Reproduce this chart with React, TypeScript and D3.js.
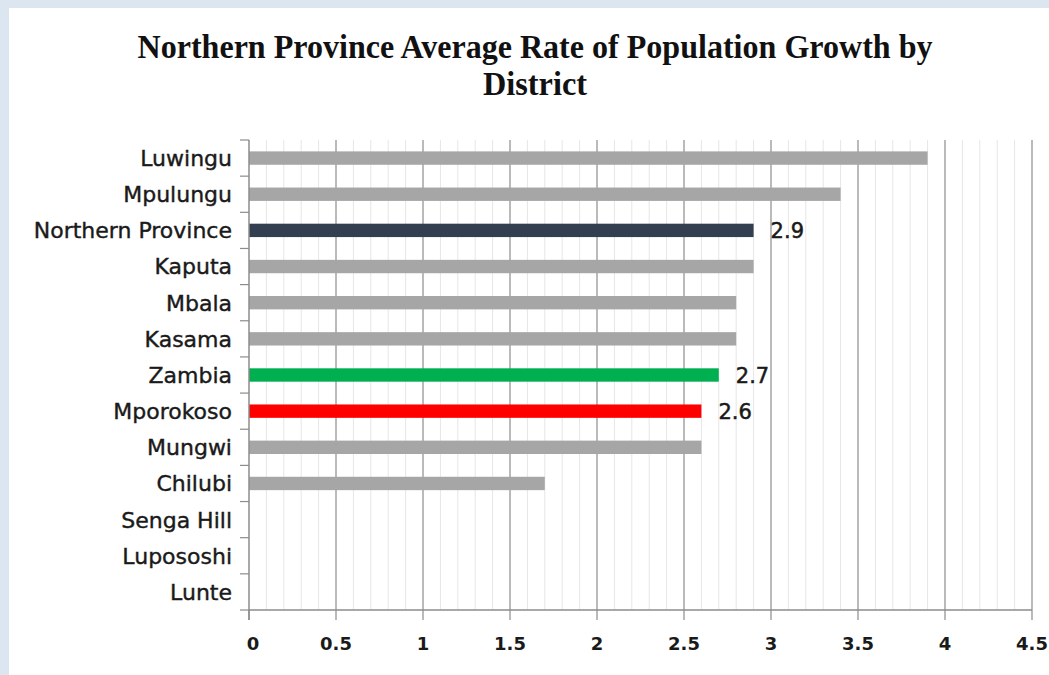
import React from "react";
import * as d3 from "d3";

const categories = [
  "Luwingu", "Mpulungu", "Northern Province", "Kaputa", "Mbala", "Kasama",
  "Zambia", "Mporokoso", "Mungwi", "Chilubi", "Senga Hill", "Lupososhi", "Lunte",
];
const values = [3.9, 3.4, 2.9, 2.9, 2.8, 2.8, 2.7, 2.6, 2.6, 1.7, 0, 0, 0];
const barColors = [
  "#a6a6a6", "#a6a6a6", "#333f50", "#a6a6a6", "#a6a6a6", "#a6a6a6",
  "#00b050", "#ff0000", "#a6a6a6", "#a6a6a6", "#a6a6a6", "#a6a6a6", "#a6a6a6",
];
const labeled = ["Northern Province", "Zambia", "Mporokoso"];
const xTicks = [0, 0.5, 1, 1.5, 2, 2.5, 3, 3.5, 4, 4.5];
const titleLines = ["Northern Province Average Rate of Population Growth by", "District"];

const W = 1049;
const H = 675;
const left = 249;
const right = 1032;
const top = 140;
const bottom = 610;
const font = "'DejaVu Sans', Lato, sans-serif";

export default function App() {
  const x = d3.scaleLinear().domain([0, 4.5]).range([left, right]);
  const y = d3.scaleBand<string>().domain(categories).range([top, bottom]).paddingInner(0.63).paddingOuter(0.315);
  const yb = d3.scaleBand<string>().domain(categories).range([top, bottom]);
  const minor = d3.range(0, 45).map((i) => i / 10).filter((v) => Math.round(v * 10) % 5 !== 0);

  return (
    <svg width={W} height={H} style={{ position: "absolute", left: 0, top: 0 }}>
      <rect x={0} y={0} width={W} height={H} fill="#dce6f1" />
      <rect x={9} y={8} width={W - 9} height={H - 8} fill="#ffffff" />
      {titleLines.map((t, i) => (
        <text key={i} x={535} y={58 + i * 37} textAnchor="middle" fontFamily="'Liberation Serif', 'Times New Roman', serif"
          fontWeight="bold" fontSize={i === 0 ? 34 : 33} fill="#111"
          {...(i === 0 ? { textLength: 795, lengthAdjust: "spacingAndGlyphs" } : { textLength: 104, lengthAdjust: "spacingAndGlyphs" })}>
          {t}
        </text>
      ))}
      {minor.map((v) => (
        <line key={"m" + v} x1={x(v)} x2={x(v)} y1={top} y2={bottom} stroke="#e6e6e6" strokeWidth={1} />
      ))}
      {xTicks.slice(1).map((v) => (
        <line key={"g" + v} x1={x(v)} x2={x(v)} y1={top} y2={bottom} stroke="#8c8c8c" strokeWidth={1.2} />
      ))}
      {categories.map((c, i) => (
        <rect key={c} x={x(0)} y={y(c)} width={x(values[i]) - x(0)} height={y.bandwidth()} fill={barColors[i]} />
      ))}
      {categories.map((c, i) =>
        labeled.includes(c) ? (
          <text key={"l" + c} x={x(values[i]) + 17} y={(y(c) as number) + y.bandwidth() / 2} dy="0.36em"
            fontFamily={font} fontSize={21} stroke="#1a1a1a" strokeWidth={0.5} fill="#1a1a1a">
            {values[i]}
          </text>
        ) : null
      )}
      {/* y axis */}
      <line x1={left} x2={left} y1={top} y2={bottom + 10} stroke="#8c8c8c" strokeWidth={1.5} />
      {categories.map((c) => (
        <line key={"t" + c} x1={left - 9} x2={left} y1={yb(c)} y2={yb(c)} stroke="#8c8c8c" strokeWidth={1.2} />
      ))}
      <line x1={left - 9} x2={left} y1={bottom} y2={bottom} stroke="#8c8c8c" strokeWidth={1.2} />
      {categories.map((c) => (
        <text key={"c" + c} x={232} y={(yb(c) as number) + yb.bandwidth() / 2} dy="0.36em" textAnchor="end"
          fontFamily={font} fontSize={22} stroke="#1a1a1a" strokeWidth={0.4} fill="#1a1a1a">
          {c}
        </text>
      ))}
      {/* x axis */}
      <line x1={left} x2={right} y1={bottom} y2={bottom} stroke="#8c8c8c" strokeWidth={1.5} />
      {xTicks.map((v) => (
        <line key={"xt" + v} x1={x(v)} x2={x(v)} y1={bottom} y2={bottom + 10} stroke="#8c8c8c" strokeWidth={1.2} />
      ))}
      {xTicks.map((v) => (
        <text key={"xl" + v} x={x(v) + (v === 0 ? 4 : 0)} y={644} dy="0.36em" textAnchor="middle"
          fontFamily={font} fontSize={18} fontWeight={700} fill="#1a1a1a">
          {v}
        </text>
      ))}
    </svg>
  );
}
